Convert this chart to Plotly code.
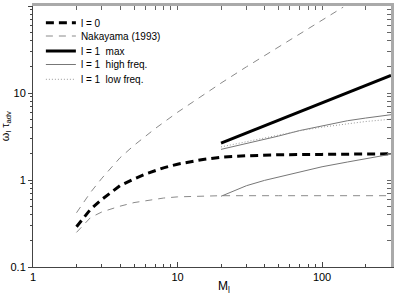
import math
import plotly.graph_objects as go

# ---- data ----
l0_x = [2, 2.5, 3, 4, 5, 6, 8, 10, 15, 20, 30, 50, 100, 200, 300]
l0_y = [0.29, 0.46, 0.60, 0.86, 1.03, 1.17, 1.38, 1.52, 1.72, 1.83, 1.90, 1.95, 1.97, 1.99, 2.0]

nak_up_x = [2, 2.5, 3, 4, 5, 7, 10, 14, 20, 30, 50, 70, 100, 140]
nak_up_y = [0.42, 0.72, 1.05, 1.8, 2.5, 3.9, 6.0, 8.8, 13, 20, 34, 48, 69, 97]

nak_lo_x = [2, 2.5, 3, 4, 5, 6, 8, 10, 15, 20, 50, 100, 300]
nak_lo_y = [0.25, 0.37, 0.43, 0.50, 0.55, 0.58, 0.62, 0.64, 0.65, 0.66, 0.66, 0.66, 0.66]

max_x = [20, 30, 50, 100, 200, 300]
max_y = [2.66, 3.48, 4.87, 7.7, 12.2, 15.9]

hf_up_x = [20, 30, 50, 70, 100, 150, 200, 300]
hf_up_y = [2.25, 2.62, 3.2, 3.7, 4.2, 4.8, 5.15, 5.63]

hf_lo_x = [20, 23, 26, 30, 40, 50, 70, 100, 150, 200, 300]
hf_lo_y = [0.65, 0.72, 0.79, 0.86, 0.99, 1.08, 1.25, 1.42, 1.61, 1.76, 1.98]

lf_x = [20, 30, 50, 70, 100, 150, 200, 300]
lf_y = [2.4, 2.75, 3.3, 3.68, 4.05, 4.45, 4.7, 5.0]

x_ticks = [1, 10, 100]
x_ticklabels = ["1", "10", "100"]
y_ticks = [0.1, 1, 10, 100]
y_ticklabels = ["0.1", "1", "10", "100"]

x_minor = [2, 3, 4, 5, 6, 7, 8, 9, 20, 30, 40, 50, 60, 70, 80, 90, 200, 300]
y_minor = [0.2, 0.3, 0.4, 0.5, 0.6, 0.7, 0.8, 0.9, 2, 3, 4, 5, 6, 7, 8, 9,
           20, 30, 40, 50, 60, 70, 80, 90]

XMAX = 300
FONT = "Liberation Sans, Arial, sans-serif"
NB = "\u00a0"

fig = go.Figure()

fig.add_trace(go.Scatter(x=l0_x, y=l0_y, mode="lines", name=f"l{NB}={NB}0",
                         legend="legend",
                         line=dict(color="black", width=3, dash="8px,5px")))
fig.add_trace(go.Scatter(x=nak_up_x, y=nak_up_y, mode="lines", name="Nakayama (1993)",
                         legendgroup="nak", legend="legend2",
                         line=dict(color="#8a8a8a", width=1, dash="7px,6px")))
fig.add_trace(go.Scatter(x=nak_lo_x, y=nak_lo_y, mode="lines", name="Nakayama (1993)",
                         legendgroup="nak", showlegend=False, legend="legend2",
                         line=dict(color="#8a8a8a", width=1, dash="7px,6px")))
fig.add_trace(go.Scatter(x=max_x, y=max_y, mode="lines", name=f"l{NB}={NB}1{NB}{NB}max",
                         legend="legend3",
                         line=dict(color="black", width=3)))
fig.add_trace(go.Scatter(x=hf_up_x, y=hf_up_y, mode="lines",
                         name=f"l{NB}={NB}1{NB}{NB}high{NB}freq.", legendgroup="hf",
                         legend="legend4",
                         line=dict(color="#777777", width=1)))
fig.add_trace(go.Scatter(x=hf_lo_x, y=hf_lo_y, mode="lines",
                         name=f"l{NB}={NB}1{NB}{NB}high{NB}freq.", legendgroup="hf",
                         showlegend=False, legend="legend4",
                         line=dict(color="#777777", width=1)))
fig.add_trace(go.Scatter(x=lf_x, y=lf_y, mode="lines",
                         name=f"l{NB}={NB}1{NB}{NB}low{NB}freq.", legend="legend5",
                         line=dict(color="#999999", width=1, dash="1px,2px")))

# invisible trace on the top/right frame axes
fig.add_trace(go.Scatter(x=[10], y=[1], xaxis="x2", yaxis="y2", mode="markers",
                         marker=dict(opacity=0), showlegend=False, hoverinfo="skip"))

xr = [0, math.log10(XMAX)]
yr = [-1, 2]

PLOT_TOP, PLOT_BOTTOM = 6, 267
legend_rows = [22.7, 36, 51, 64.5, 79.3]  # page pixel rows of legend entries


def leg(row):
    return dict(x=0.022, y=(PLOT_BOTTOM - row) / (PLOT_BOTTOM - PLOT_TOP),
                xanchor="left", yanchor="middle",
                bgcolor="rgba(0,0,0,0)", font=dict(size=10, family=FONT),
                tracegroupgap=0, itemwidth=30)


fig.update_layout(
    width=396, height=297,
    margin=dict(l=33, r=5, t=6, b=30),
    paper_bgcolor="white", plot_bgcolor="white",
    font=dict(family=FONT, size=11, color="black"),
    xaxis=dict(type="log", range=xr, tickvals=x_ticks, ticktext=x_ticklabels,
               automargin=False,
               ticks="inside", ticklen=5, tickcolor="#444", showgrid=False, zeroline=False,
               showline=True, linecolor="#444", linewidth=1,
               minor=dict(tickvals=x_minor, ticks="inside", ticklen=3, tickcolor="#444", showgrid=False),
               tickfont=dict(size=11)),
    yaxis=dict(type="log", range=yr, tickvals=y_ticks, ticktext=y_ticklabels,
               automargin=False,
               ticks="outside", ticklen=4, tickcolor="#444", showgrid=False, zeroline=False,
               showline=True, linecolor="#444", linewidth=1,
               minor=dict(tickvals=y_minor, ticks="outside", ticklen=2, tickcolor="#444", showgrid=False),
               tickfont=dict(size=11)),
    xaxis2=dict(type="log", range=xr, overlaying="x", side="top", anchor="y",
                automargin=False,
                showticklabels=False, ticks="inside", ticklen=4, tickcolor="#666",
                tickvals=x_ticks + x_minor, showgrid=False, zeroline=False,
                showline=True, linecolor="#aaaaaa", linewidth=3),
    yaxis2=dict(type="log", range=yr, overlaying="y", side="right", anchor="x",
                automargin=False,
                showticklabels=False, ticks="inside", ticklen=4, tickcolor="#666",
                tickvals=y_ticks + y_minor, showgrid=False, zeroline=False,
                showline=True, linecolor="#aaaaaa", linewidth=3),
    legend=leg(legend_rows[0]),
    legend2=leg(legend_rows[1]),
    legend3=leg(legend_rows[2]),
    legend4=leg(legend_rows[3]),
    legend5=leg(legend_rows[4]),
    showlegend=True,
    annotations=[
        dict(text="M<sub>l</sub>", xref="paper", yref="paper",
             x=0.534, y=-0.078, xanchor="center", yanchor="middle",
             showarrow=False, font=dict(size=12)),
        dict(text="ω<sub>l</sub> τ<sub>adv</sub>", xref="paper", yref="paper",
             x=-0.075, y=0.54, xanchor="center", yanchor="middle", textangle=-90,
             showarrow=False, font=dict(size=11)),
    ],
)

fig.write_html("out.html",
               config={"displayModeBar": False},
               post_script="document.body.style.margin='0px';"
                           "document.body.style.overflow='hidden';")
